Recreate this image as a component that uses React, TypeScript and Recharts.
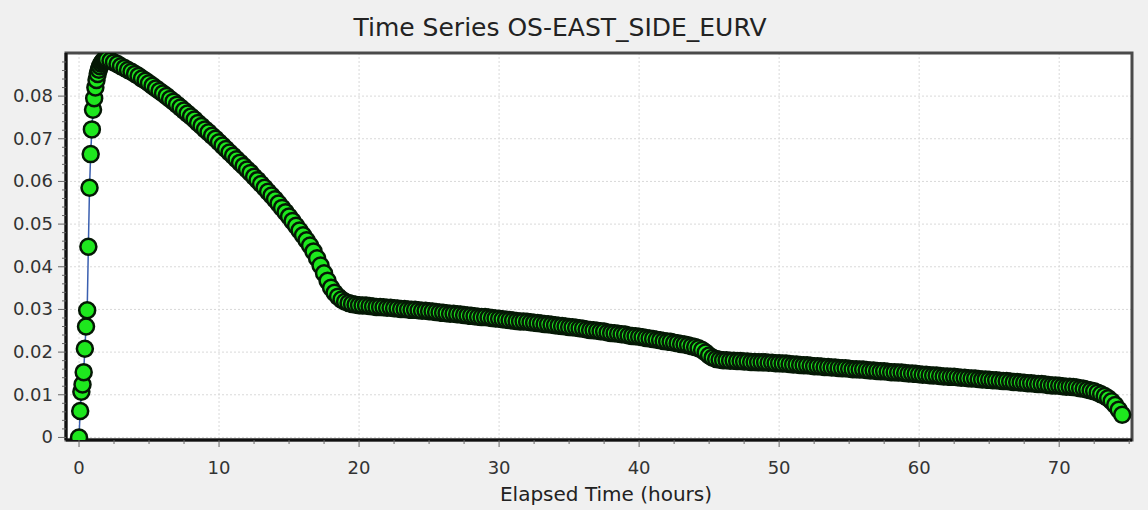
import { LineChart, Line, XAxis, YAxis, CartesianGrid, ReferenceArea } from 'recharts';

// rising limb, 5-minute samples (hours)
const riseTimes = [
  0, 0.083, 0.167, 0.25, 0.333, 0.417, 0.5, 0.583, 0.667, 0.75, 0.833, 0.917,
  1.0, 1.083, 1.167, 1.25, 1.333, 1.417, 1.5, 1.583, 1.667, 1.75, 1.833, 1.917,
];
const riseValues = [
  0, 0.0062, 0.0107, 0.0124, 0.0153, 0.0208, 0.026, 0.0298, 0.0447, 0.0585, 0.0664, 0.0722,
  0.0768, 0.0795, 0.082, 0.0838, 0.0852, 0.0862, 0.087, 0.0876, 0.088, 0.0883, 0.0885, 0.0886,
];

// falling limb, read every 15 minutes starting at 2.0 h
const fallStart = 2;
const fallStep = 0.25;
const fallValues = [
  0.0886, 0.0883, 0.0879, 0.0875, 0.087, 0.0866, 0.0861, 0.0857, // 2
  0.0852, 0.0847, 0.0841, 0.0836, 0.083, 0.0824, 0.0818, 0.0812, // 4
  0.0806, 0.08, 0.0793, 0.0787, 0.078, 0.0773, 0.0766, 0.0759, // 6
  0.0752, 0.0745, 0.0737, 0.073, 0.0722, 0.0715, 0.0707, 0.07, // 8
  0.0692, 0.0684, 0.0676, 0.0668, 0.066, 0.0652, 0.0644, 0.0636, // 10
  0.0628, 0.062, 0.0611, 0.0603, 0.0594, 0.0585, 0.0576, 0.0567, // 12
  0.0558, 0.0548, 0.0538, 0.0528, 0.0518, 0.0507, 0.0496, 0.0485, // 14
  0.0474, 0.0462, 0.045, 0.0436, 0.042, 0.0403, 0.0385, 0.0367, // 16
  0.0351, 0.0339, 0.033, 0.0323, 0.0318, 0.0315, 0.0313, 0.0311, // 18
  0.031, 0.0309, 0.0309, 0.0308, 0.0307, 0.0306, 0.0306, 0.0305, // 20
  0.0304, 0.0304, 0.0303, 0.0302, 0.0301, 0.0301, 0.03, 0.0299, // 22
  0.0299, 0.0298, 0.0297, 0.0297, 0.0296, 0.0295, 0.0294, 0.0293, // 24
  0.0292, 0.0291, 0.029, 0.029, 0.0289, 0.0288, 0.0287, 0.0286, // 26
  0.0285, 0.0284, 0.0283, 0.0282, 0.0282, 0.0281, 0.028, 0.0279, // 28
  0.0278, 0.0277, 0.0276, 0.0275, 0.0274, 0.0273, 0.0272, 0.0272, // 30
  0.0271, 0.027, 0.0269, 0.0268, 0.0267, 0.0266, 0.0265, 0.0264, // 32
  0.0263, 0.0262, 0.0261, 0.026, 0.0259, 0.0258, 0.0257, 0.0256, // 34
  0.0255, 0.0253, 0.0252, 0.0251, 0.025, 0.0249, 0.0248, 0.0246, // 36
  0.0245, 0.0244, 0.0243, 0.0242, 0.0241, 0.0239, 0.0238, 0.0237, // 38
  0.0236, 0.0235, 0.0233, 0.0232, 0.0231, 0.0229, 0.0228, 0.0226, // 40
  0.0225, 0.0224, 0.0222, 0.0221, 0.0219, 0.0218, 0.0216, 0.0214, // 42
  0.0212, 0.0209, 0.0205, 0.0199, 0.0192, 0.0187, 0.0184, 0.0182, // 44
  0.0181, 0.0181, 0.018, 0.018, 0.0179, 0.0179, 0.0178, 0.0178, // 46
  0.0177, 0.0177, 0.0176, 0.0176, 0.0176, 0.0175, 0.0175, 0.0174, // 48
  0.0174, 0.0173, 0.0173, 0.0172, 0.0171, 0.0171, 0.017, 0.0169, // 50
  0.0169, 0.0168, 0.0167, 0.0167, 0.0166, 0.0165, 0.0165, 0.0164, // 52
  0.0164, 0.0163, 0.0162, 0.0162, 0.0161, 0.016, 0.016, 0.0159, // 54
  0.0159, 0.0158, 0.0157, 0.0157, 0.0156, 0.0155, 0.0155, 0.0154, // 56
  0.0153, 0.0153, 0.0152, 0.0152, 0.0151, 0.015, 0.015, 0.0149, // 58
  0.0148, 0.0147, 0.0147, 0.0146, 0.0145, 0.0145, 0.0144, 0.0143, // 60
  0.0143, 0.0142, 0.0142, 0.0141, 0.014, 0.014, 0.0139, 0.0138, // 62
  0.0138, 0.0137, 0.0136, 0.0136, 0.0135, 0.0134, 0.0134, 0.0133, // 64
  0.0132, 0.0132, 0.0131, 0.013, 0.013, 0.0129, 0.0128, 0.0127, // 66
  0.0127, 0.0126, 0.0125, 0.0125, 0.0124, 0.0123, 0.0122, 0.0122, // 68
  0.0121, 0.012, 0.0119, 0.0119, 0.0118, 0.0117, 0.0115, 0.0114, // 70
  0.0112, 0.011, 0.0108, 0.0105, 0.0101, 0.0097, 0.0092, 0.0085, // 72
  0.0076, 0.0065, 0.0053, // 74
];

const xTicks = [
  0, 2.5, 5, 7.5, 10, 12.5, 15, 17.5, 20, 22.5, 25, 27.5, 30, 32.5, 35, 37.5,
  40, 42.5, 45, 47.5, 50, 52.5, 55, 57.5, 60, 62.5, 65, 67.5, 70, 72.5, 75,
];
const xGridValues = [0, 10, 20, 30, 40, 50, 60, 70];
const yMajorTicks = [0, 0.01, 0.02, 0.03, 0.04, 0.05, 0.06, 0.07, 0.08];
const yTickLabels = ['0', '0.01', '0.02', '0.03', '0.04', '0.05', '0.06', '0.07', '0.08'];

const title = 'Time Series OS-EAST_SIDE_EURV';
const xTitle = 'Elapsed Time (hours)';

const data = [
  ...riseTimes.map((t, i) => ({ t, v: riseValues[i] })),
  ...fallValues.map((v, i) => ({ t: fallStart + i * fallStep, v })),
];

// minor y ticks: 4 between each labelled tick
const yTicks: number[] = [];
yMajorTicks.forEach((m) => {
  for (let k = 0; k < 5; k++) yTicks.push(+(m + k * 0.002).toFixed(4));
});

const font = '"DejaVu Sans", Verdana, sans-serif';
const labelColor = '#333';

function YTick(props: any) {
  const { x, y, payload } = props;
  const idx = yMajorTicks.findIndex((m) => Math.abs(m - payload.value) < 1e-7);
  const major = idx >= 0;
  return (
    <g>
      <line x1={x - (major ? 8 : 4)} x2={x} y1={y} y2={y} stroke="#666" strokeWidth={1} />
      {major && (
        <text x={x - 13} y={y} dy={6} textAnchor="end" fontSize={18} fontFamily={font} fill={labelColor}>
          {yTickLabels[idx]}
        </text>
      )}
    </g>
  );
}

function XTick(props: any) {
  const { x, y, payload } = props;
  const major = payload.value % 10 === 0;
  return (
    <g>
      <line x1={x} x2={x} y1={y} y2={y + (major ? 7 : 4)} stroke="#666" strokeWidth={1} />
      {major && (
        <text x={x} y={y + 34} textAnchor="middle" fontSize={18} fontFamily={font} fill={labelColor}>
          {payload.value}
        </text>
      )}
    </g>
  );
}

export default function App() {
  return (
    <div style={{ position: 'relative', width: 1148, height: 510, background: '#f0f0f0', overflow: 'hidden' }}>
      <style>{'body{margin:0;background:#f0f0f0}'}</style>
      <div
        style={{
          position: 'absolute',
          top: 14,
          left: 0,
          width: 1120,
          textAlign: 'center',
          fontFamily: font,
          fontSize: 25,
          lineHeight: '28px',
          color: '#222',
        }}
      >
        {title}
      </div>
      <LineChart width={1148} height={510} data={data} margin={{ top: 53, right: 16, bottom: 0, left: 0 }}>
        <CartesianGrid
          fill="#fff"
          stroke="#d9d9d9"
          strokeDasharray="2 2"
          horizontalValues={yMajorTicks}
          verticalValues={xGridValues}
        />
        <XAxis
          dataKey="t"
          type="number"
          domain={[-0.93, 75.2]}
          allowDataOverflow
          ticks={xTicks}
          interval={0}
          height={70}
          tickLine={false}
          tickSize={0}
          tickMargin={0}
          tick={XTick}
          axisLine={{ stroke: '#111', strokeWidth: 3 }}
        />
        <YAxis
          type="number"
          domain={[-0.0006, 0.0901]}
          allowDataOverflow
          ticks={yTicks}
          interval={0}
          width={66}
          tickLine={false}
          tickSize={0}
          tickMargin={0}
          tick={YTick}
          axisLine={{ stroke: '#111', strokeWidth: 3 }}
        />
        <ReferenceArea
          x1={-0.93}
          x2={75.2}
          y1={-0.0006}
          y2={0.0901}
          fill="none"
          stroke="#4a4a4a"
          strokeWidth={3}
        />
        <Line
          type="linear"
          dataKey="v"
          stroke="#3a5fb0"
          strokeWidth={1.5}
          dot={{ r: 8, fill: '#1ee81e', stroke: '#051805', strokeWidth: 2.5 }}
          activeDot={false}
          isAnimationActive={false}
        />
      </LineChart>
      <div
        style={{
          position: 'absolute',
          top: 483,
          left: 406,
          width: 400,
          textAlign: 'center',
          fontFamily: font,
          fontSize: 20,
          lineHeight: '22px',
          color: '#222',
        }}
      >
        {xTitle}
      </div>
    </div>
  );
}
